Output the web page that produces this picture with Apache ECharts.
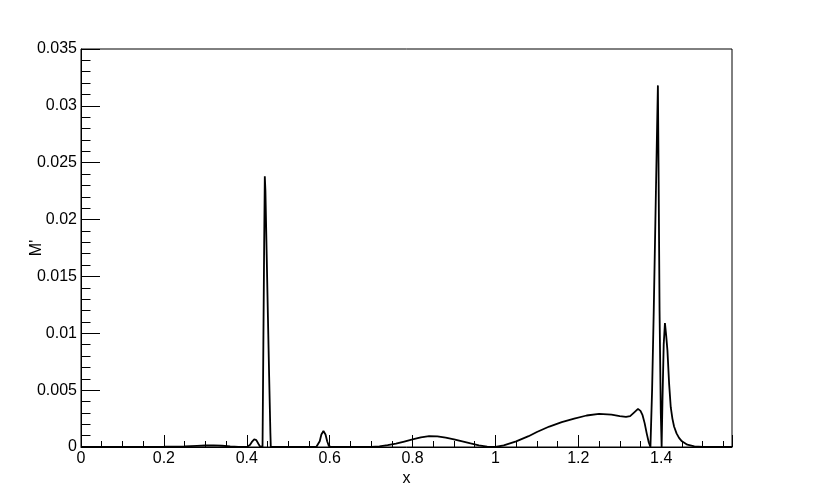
<!DOCTYPE html>
<html>
<head>
<meta charset="utf-8">
<script src="https://cdn.jsdelivr.net/npm/echarts@6/dist/echarts.min.js"></script>
<style>
html,body{margin:0;padding:0;background:#fff;}
#chart{width:814px;height:498px;}
</style>
</head>
<body>
<div id="chart"></div>
<script>
var xValues = [
  0, 0.05, 0.1, 0.15, 0.2, 0.25, 0.28, 0.3, 0.32, 0.34, 0.36, 0.38, 0.395,
  0.402, 0.408, 0.413, 0.418, 0.423, 0.428, 0.432, 0.436,
  0.438, 0.440, 0.442, 0.4435, 0.445, 0.448, 0.451, 0.454, 0.457, 0.458,
  0.5, 0.55, 0.568,
  0.572, 0.576, 0.58, 0.585, 0.59, 0.594, 0.598, 0.603,
  0.65, 0.7,
  0.72, 0.74, 0.76, 0.78, 0.8, 0.82, 0.84, 0.86, 0.88, 0.9, 0.92, 0.94, 0.96, 0.98, 1.0,
  1.02, 1.05, 1.08, 1.1, 1.13, 1.16, 1.19, 1.22, 1.25, 1.28, 1.3, 1.315, 1.325, 1.335, 1.344, 1.35, 1.355, 1.36, 1.365, 1.37, 1.374,
  1.378, 1.382, 1.386, 1.39, 1.392, 1.3935, 1.396, 1.399, 1.401,
  1.403, 1.406, 1.409, 1.412, 1.415, 1.419, 1.423, 1.427, 1.431, 1.437, 1.443, 1.45, 1.463, 1.48, 1.5, 1.55, 1.5708
];
var mPrime = [
  0, 0, 0, 0.00001, 0.00002, 0.00005, 0.0001, 0.00013, 0.00014, 0.00011, 0.00005, 0.00001, 0.00001,
  0.00003, 0.0002, 0.00048, 0.00068, 0.0006, 0.00028, 0.00005, 0,
  0, 0.009, 0.018, 0.0238, 0.0225, 0.017, 0.0115, 0.0062, 0.0012, 0,
  0, 0, 0.00002,
  0.0001, 0.0005, 0.0011, 0.0014, 0.0011, 0.0005, 0.0001, 0,
  0, 0.00001,
  0.00006, 0.00016, 0.0003, 0.00048, 0.00066, 0.00085, 0.00096, 0.00093, 0.00082, 0.00068, 0.0005, 0.00032, 0.00015, 0.00004, 0,
  0.00015, 0.0005, 0.00095, 0.00132, 0.0018, 0.00218, 0.0025, 0.00277, 0.00292, 0.00285, 0.00272, 0.00265, 0.00272, 0.00305, 0.00335, 0.00318, 0.0028, 0.0021, 0.0012, 0.0004, 0,
  0.005, 0.012, 0.02, 0.028, 0.0318, 0.025, 0.012, 0.003, 0,
  0.004, 0.009, 0.0109, 0.0098, 0.0085, 0.0056, 0.0035, 0.0025, 0.0018, 0.0012, 0.0008, 0.0005, 0.0002, 0.00005, 0, 0, 0
];
var xTicks = [0, 0.2, 0.4, 0.6, 0.8, 1, 1.2, 1.4];
var yTicks = [0, 0.005, 0.01, 0.015, 0.02, 0.025, 0.03, 0.035];

var data = xValues.map(function (x, i) { return [x, mPrime[i]]; });
var font = '"Liberation Sans", Arial, Helvetica, sans-serif';

var chart = echarts.init(document.getElementById('chart'), null, {renderer: 'canvas'});
chart.setOption({
  animation: false,
  backgroundColor: '#ffffff',
  grid: {left: 81, right: 82, top: 49, bottom: 51, show: true, borderColor: '#000', borderWidth: 1, backgroundColor: 'transparent'},
  xAxis: {
    type: 'value', min: 0, max: 1.5708, interval: 0.2,
    name: 'x', nameLocation: 'middle', nameGap: 24, nameMoveOverlap: false,
    nameTextStyle: {color: '#000', fontSize: 16, fontFamily: font},
    axisLine: {show: true, lineStyle: {color: '#000', width: 1}},
    axisTick: {show: true, inside: true, length: 12, lineStyle: {color: '#000'}},
    minorTick: {show: true, splitNumber: 4, length: 6, lineStyle: {color: '#000'}},
    axisLabel: {color: '#000', fontSize: 16, fontFamily: font, margin: 4, showMaxLabel: false,
      formatter: function (v) { var r = Math.round(v * 10) / 10; return xTicks.indexOf(r) >= 0 ? String(r) : ''; }},
    splitLine: {show: false}
  },
  yAxis: {
    type: 'value', min: 0, max: 0.035, interval: 0.005,
    name: "M'", nameLocation: 'middle', nameGap: 36, nameRotate: 90, nameMoveOverlap: false,
    nameTextStyle: {color: '#000', fontSize: 16, fontFamily: font},
    axisLine: {show: true, lineStyle: {color: '#000', width: 1}},
    axisTick: {show: true, inside: true, length: 19, lineStyle: {color: '#000'}},
    minorTick: {show: true, splitNumber: 5, length: 9.5, lineStyle: {color: '#000'}},
    axisLabel: {color: '#000', fontSize: 16, fontFamily: font, margin: 4,
      formatter: function (v) { var r = Math.round(v * 1000) / 1000; return yTicks.indexOf(r) >= 0 ? String(r) : ''; }},
    splitLine: {show: false}
  },
  series: [{
    type: 'line', data: data, showSymbol: false, smooth: false,
    lineStyle: {color: '#000', width: 1.8},
    clip: true
  }]
});
</script>
</body>
</html>
